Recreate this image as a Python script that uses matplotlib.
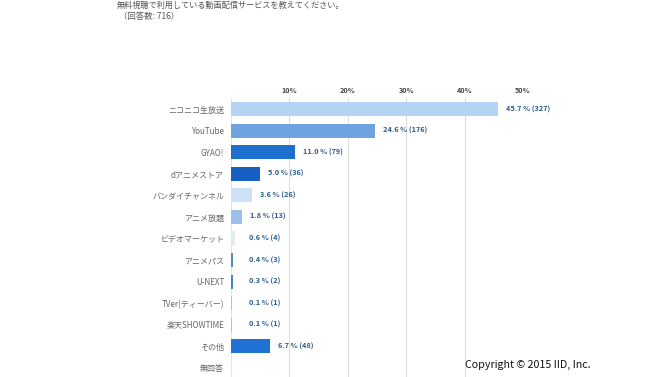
import matplotlib
matplotlib.use("Agg")
import matplotlib.pyplot as plt

plt.rcParams['font.family'] = ['Noto Sans CJK JP', 'DejaVu Sans']

services = ["ニコニコ生放送", "YouTube", "GYAO!", "dアニメストア", "バンダイチャンネル",
            "アニメ放題", "ビデオマーケット", "アニメパス", "U-NEXT", "TVer(ティーバー)",
            "楽天SHOWTIME", "その他", "無回答"]
pct = [45.7, 24.6, 11.0, 5.0, 3.6, 1.8, 0.6, 0.4, 0.3, 0.1, 0.1, 6.7, 0.0]
counts = [327, 176, 79, 36, 26, 13, 4, 3, 2, 1, 1, 48, None]
colors = ["#b5d3f2", "#6ea3e0", "#1f6fcf", "#1560c0", "#cde0f5", "#9bc1ea",
          "#e0ebf8", "#5a8ac0", "#4a85c0", "#a8c4e4", "#a8c4e4", "#1f72d4", "#ffffff"]
xticks = [10, 20, 30, 40, 50]

fig = plt.figure(figsize=(6.7, 3.77), dpi=100)
ax = fig.add_axes([231/670, 0.0, (523-231)/670, 1 - 98.2/377])

y = list(range(len(services)))
ax.barh(y, pct, height=0.65, color=colors, edgecolor="none", zorder=3)

ax.set_xlim(0, 50)
ax.set_ylim(12.42, -0.5)
ax.set_yticks(y)
ax.set_yticklabels(services, fontsize=5.8, color="#666666")
ax.tick_params(axis='y', length=0, pad=5)

ax.xaxis.tick_top()
ax.set_xticks(xticks)
ax.set_xticklabels([f"{t}%" for t in xticks], fontsize=5.2, color="#444444",
                   fontweight="bold")
ax.tick_params(axis='x', length=0, pad=3)

for t in xticks:
    ax.axvline(t, color="#dddddd", lw=0.8, zorder=1)
ax.axvline(0, color="#e4e4e4", lw=0.8, zorder=1)

for s in ax.spines.values():
    s.set_visible(False)

for i, (p, c) in enumerate(zip(pct, counts)):
    if c is None:
        continue
    xpos = max(p, 1.6) + 1.4
    ax.text(xpos, i, f"{p:.1f} % ({c})", va="center", ha="left", fontsize=5.3,
            fontweight="bold", color="#2b5c8f", clip_on=False)

fig.text(117/670, 1 - 5/377, "無料視聴で利用している動画配信サービスを教えてください。",
         fontsize=5.9, color="#555555", va="center", ha="left")
fig.text(119/670, 1 - 17/377, "（回答数: 716）", fontsize=6, color="#555555",
         va="center", ha="left")
fig.text(465/670, 1 - 365/377, "Copyright © 2015 IID, Inc.", fontsize=7.7,
         color="#111111", va="center", ha="left")

fig.savefig("out.png", dpi=100)
